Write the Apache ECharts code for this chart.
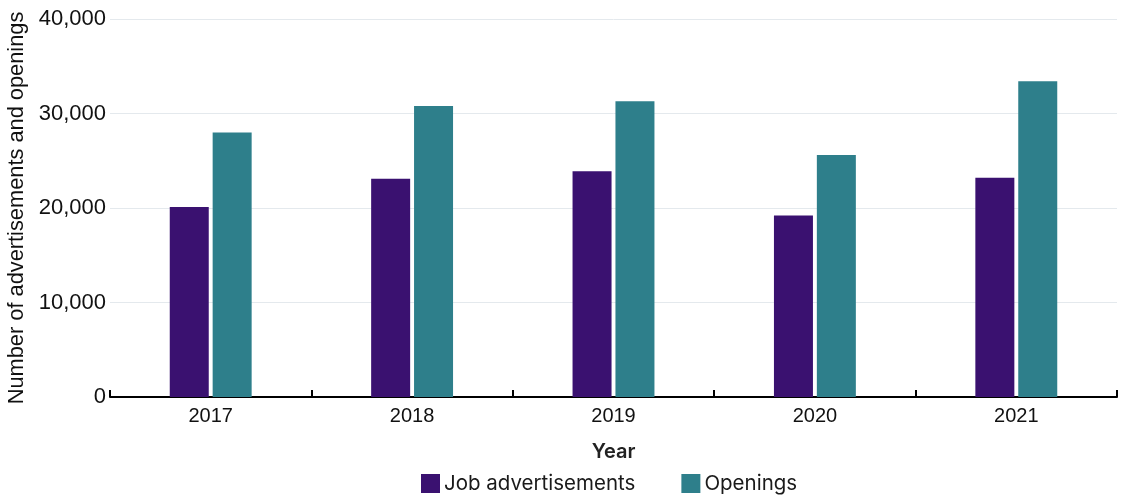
<!DOCTYPE html>
<html><head><meta charset="utf-8">
<script src="https://cdn.jsdelivr.net/npm/echarts@6/dist/echarts.min.js"></script>
<style>html,body{margin:0;padding:0;background:#fff}#c{width:1125px;height:498px}</style>
</head><body><div id="c"></div>
<script>
const years = ['2017','2018','2019','2020','2021'];
const jobAds = [20100, 23100, 23900, 19200, 23200];
const openings = [28000, 30800, 31300, 25600, 33400];
const yTicks = [0, 10000, 20000, 30000, 40000];

const chart = echarts.init(document.getElementById('c'));
chart.setOption({
  animation: false,
  grid: {left: 110, right: 8, top: 19, bottom: 101, containLabel: false, outerBoundsMode: 'none'},
  legend: {
    top: 468, left: 416, itemWidth: 19, itemHeight: 19, itemGap: 46,
    icon: 'rect',
    textStyle: {fontFamily: 'Inter', fontSize: 20.5, color: '#1a1a1a', padding: [0,0,0,-1]},
    data: ['Job advertisements', 'Openings']
  },
  xAxis: {
    type: 'category', data: years,
    name: 'Year', nameLocation: 'middle', nameGap: 45,
    nameTextStyle: {fontFamily: 'Inter', fontSize: 20, fontWeight: 600, color: '#222'},
    axisLine: {lineStyle: {color: '#000', width: 2}},
    axisTick: {show: true, inside: true, length: 7, lineStyle: {color: '#000', width: 2}},
    axisLabel: {fontFamily: 'Liberation Sans', fontSize: 20, color: '#111', margin: 9}
  },
  yAxis: {
    type: 'value', min: yTicks[0], max: yTicks[yTicks.length-1], interval: 10000,
    name: 'Number of advertisements and openings', nameLocation: 'middle', nameGap: 80,
    nameTextStyle: {fontFamily: 'Liberation Sans', fontSize: 21.8, color: '#111'},
    axisLine: {show: false}, axisTick: {show: false},
    axisLabel: {fontFamily: 'Liberation Sans', fontSize: 22, color: '#111', margin: 4,
      formatter: v => v.toLocaleString('en-US')},
    splitLine: {lineStyle: {color: '#e4e9ed', width: 1}}
  },
  series: [
    {name: 'Job advertisements', type: 'bar', data: jobAds, barWidth: 39, barGap: '10%',
     itemStyle: {color: '#3a1170'}},
    {name: 'Openings', type: 'bar', data: openings, barWidth: 39,
     itemStyle: {color: '#2e7f8b'}}
  ]
});
</script></body></html>
